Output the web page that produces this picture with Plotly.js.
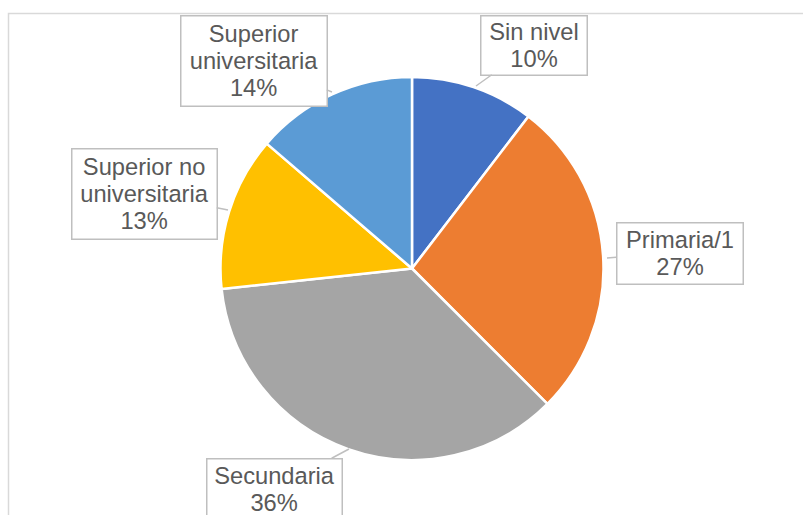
<!DOCTYPE html>
<html>
<head>
<meta charset="utf-8">
<script src="https://cdn.plot.ly/plotly-3.0.1.min.js"></script>
<style>html,body{margin:0;padding:0;background:#fff;}#chart{width:803px;height:515px;}</style>
</head>
<body>
<div id="chart"></div>
<script>
var categories = ["Sin nivel", "Primaria/1", "Secundaria", "Superior no universitaria", "Superior universitaria"];
var labelLines = [["Sin nivel"], ["Primaria/1"], ["Secundaria"], ["Superior no", "universitaria"], ["Superior", "universitaria"]];
var values = [10.4, 27.1, 35.8, 13.0, 13.7];
var colors = ["#4472C4", "#ED7D31", "#A5A5A5", "#FFC000", "#5B9BD5"];

var W = 803, H = 515;
// label callout placement (pixels): tip point, box centre, box size
var tips = [[476, 86], [607, 258], [349, 449], [228, 210], [332, 92]];
var boxCentres = [[533.5, 45], [679.5, 253], [274, 489], [144, 193.5], [253.5, 60.5]];
var boxSizes = [[105, 58], [125, 60], [134, 60], [144, 89], [145, 89]];

var total = values.reduce(function(a, b) { return a + b; }, 0);

var annotations = categories.map(function(c, i) {
  var pct = Math.round(values[i] / total * 100) + "%";
  var lines = labelLines[i].concat([pct]).map(function(l) {
    return '<span style="font-size:23.7px">' + l + '</span>';
  });
  return {
    xref: "paper", yref: "paper",
    x: tips[i][0] / W, y: 1 - tips[i][1] / H,
    ax: boxCentres[i][0] - tips[i][0], ay: boxCentres[i][1] - tips[i][1],
    axref: "pixel", ayref: "pixel",
    text: lines.join("<br>"),
    showarrow: true, arrowhead: 0, arrowwidth: 1.5, arrowcolor: "#BFBFBF", standoff: 0,
    bordercolor: "#BFBFBF", borderwidth: 1.5, borderpad: 0, bgcolor: "#FFFFFF",
    width: boxSizes[i][0], height: boxSizes[i][1],
    align: "center", valign: "middle",
    font: {family: "Liberation Sans, Arial, sans-serif", size: 21, color: "#595959"}
  };
});

var cx = 412, cy = 268.5, r = 191.5;
var trace = {
  type: "pie",
  labels: categories,
  values: values,
  sort: false,
  direction: "clockwise",
  rotation: 0,
  textinfo: "none",
  hoverinfo: "label+percent",
  marker: {colors: colors, line: {color: "#FFFFFF", width: 2.5}},
  domain: {x: [(cx - r) / W, (cx + r) / W], y: [1 - (cy + r) / H, 1 - (cy - r) / H]},
  showlegend: false
};

var layout = {
  width: W, height: H,
  margin: {l: 0, r: 0, t: 0, b: 0},
  paper_bgcolor: "#FFFFFF",
  showlegend: false,
  annotations: annotations,
  shapes: [{
    type: "rect", xref: "paper", yref: "paper",
    x0: 8.5 / W, x1: 1.05, y0: -0.05, y1: 1 - 13.5 / H,
    line: {color: "#D9D9D9", width: 1.5}, fillcolor: "rgba(0,0,0,0)", layer: "below"
  }]
};

Plotly.newPlot("chart", [trace], layout, {displayModeBar: false, staticPlot: true});
</script>
</body>
</html>
